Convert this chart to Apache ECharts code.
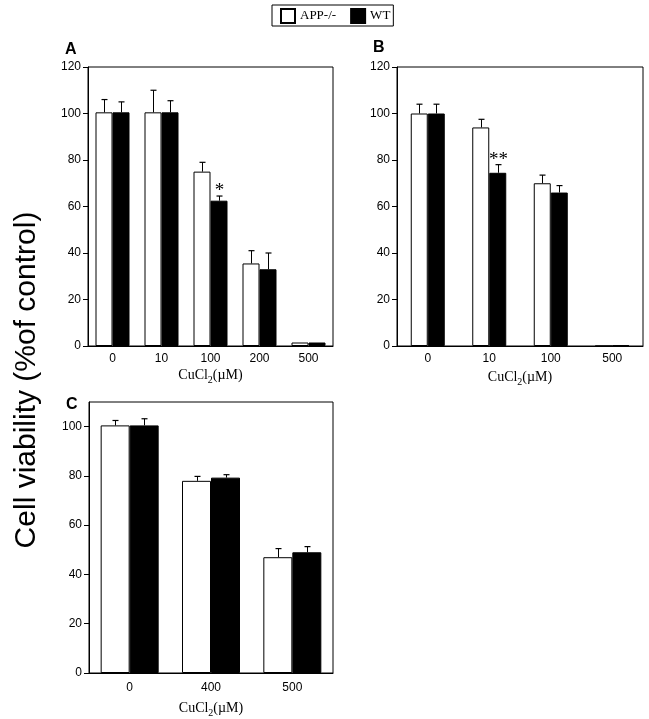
<!DOCTYPE html>
<html>
<head>
<meta charset="utf-8">
<script src="https://cdn.jsdelivr.net/npm/echarts@6/dist/echarts.min.js"></script>
<style>html,body{margin:0;padding:0;background:#fff}#c{width:649px;height:719px}</style>
</head>
<body>
<div id="c"></div>
<script>
// ---- data ----
var seriesNames = ['APP-/-', 'WT'];
var catsA = ['0', '10', '100', '200', '500'];
var appA = [100.5, 100.5, 75, 35.5, 1.5];
var wtA = [100.5, 100.5, 62.5, 33, 1.5];
var appErrA = [106, 110, 79, 41, null];
var wtErrA = [105, 105.5, 64.5, 40, null];
var sigA = ['', '', '*', '', ''];

var catsB = ['0', '10', '100', '500'];
var appB = [100, 94, 70, 0];
var wtB = [100, 74.5, 66, 0.3];
var appErrB = [104, 97.5, 73.5, null];
var wtErrB = [104, 78, 69, null];
var sigB = ['', '**', '', ''];

var catsC = ['0', '400', '500'];
var appC = [100.5, 78, 47];
var wtC = [100.5, 79.3, 49];
var appErrC = [102.5, 79.8, 50.5];
var wtErrC = [103.2, 80.5, 51.3];
var sigC = ['', '', ''];

var yMaxAB = 120, yMaxC = 110, yStep = 20;
var xTitle = 'CuCl{sub|2}(\u00b5M)';
var yTitle = 'Cell viability (%of control)';
var panelLabels = ['A', 'B', 'C'];

// ---- chart ----
var chart = echarts.init(document.getElementById('c'), null, {renderer: 'canvas'});
var sans = 'Liberation Sans, Arial, sans-serif';
var serif = 'Liberation Serif, Times New Roman, serif';

var grids = [
  {left: 88, top: 67, width: 245, height: 279},
  {left: 397, top: 67, width: 246, height: 279},
  {left: 89, top: 402, width: 244, height: 271}
];
var barWidths = [17, 17, 29];
var nameGaps = [20, 22, 26];
var labelMargins = [7, 7, 9];

function xAxis(cats, gi) {
  return {
    type: 'category', gridIndex: gi, data: cats,
    axisLine: {lineStyle: {color: '#000', width: 1}},
    axisTick: {length: 5, lineStyle: {color: '#000'}},
    axisLabel: {color: '#000', fontFamily: sans, fontSize: 12, margin: labelMargins[gi]},
    name: xTitle, nameLocation: 'middle', nameGap: nameGaps[gi],
    nameTextStyle: {color: '#000', fontFamily: serif, fontSize: 14,
      rich: {sub: {fontFamily: serif, fontSize: 10, padding: [9, 0, 0, 0], color: '#000'}}}
  };
}
function yAxis(max, gi) {
  return {
    type: 'value', gridIndex: gi, min: 0, max: max, interval: yStep,
    axisLine: {show: true, lineStyle: {color: '#000', width: 1}},
    axisTick: {show: true, length: 5, lineStyle: {color: '#000'}},
    axisLabel: {color: '#000', fontFamily: sans, fontSize: 12, margin: 7, showMaxLabel: max % yStep === 0},
    splitLine: {show: false}
  };
}

var series = [];
function addPanel(gi, app, wt, appErr, wtErr, sig) {
  var bw = barWidths[gi];
  series.push({
    name: seriesNames[0], type: 'bar', xAxisIndex: gi, yAxisIndex: gi,
    data: app, barWidth: bw, barGap: '0%',
    itemStyle: {color: '#fff', borderColor: '#000', borderWidth: 1}
  });
  series.push({
    name: seriesNames[1], type: 'bar', xAxisIndex: gi, yAxisIndex: gi,
    data: wt, barWidth: bw, barGap: '0%',
    itemStyle: {color: '#000', borderColor: '#000', borderWidth: 1}
  });
  function errSeries(vals, errs, off, marks) {
    var d = [];
    for (var i = 0; i < vals.length; i++) {
      if (errs[i] != null) d.push([i, vals[i], errs[i], marks ? marks[i] : '']);
    }
    return {
      type: 'custom', xAxisIndex: gi, yAxisIndex: gi, data: d, z: 5, silent: true,
      renderItem: function (params, api) {
        var p0 = api.coord([api.value(0), api.value(1)]);
        var p1 = api.coord([api.value(0), api.value(2)]);
        var x = Math.round(p0[0] + off) + 0.5;
        var ch = [
          {type: 'line', shape: {x1: x, y1: p0[1], x2: x, y2: p1[1]}, style: {stroke: '#000', lineWidth: 1}},
          {type: 'line', shape: {x1: x - 3, y1: p1[1], x2: x + 3, y2: p1[1]}, style: {stroke: '#000', lineWidth: 1.2}}
        ];
        var m = d[params.dataIndex][3];
        if (m) {
          ch.push({type: 'text', style: {text: m, x: x, y: p1[1] - 5, align: 'center', verticalAlign: 'middle',
            font: '19px ' + serif, fill: '#000'}});
        }
        return {type: 'group', children: ch};
      }
    };
  }
  series.push(errSeries(app, appErr, -bw / 2, null));
  series.push(errSeries(wt, wtErr, bw / 2, sig));
}
addPanel(0, appA, wtA, appErrA, wtErrA, sigA);
addPanel(1, appB, wtB, appErrB, wtErrB, sigB);
addPanel(2, appC, wtC, appErrC, wtErrC, sigC);

var panelPos = [[65, 50], [373, 48], [66, 405]];
var graphics = panelLabels.map(function (t, i) {
  return {type: 'text', left: panelPos[i][0], top: panelPos[i][1] - 8,
    style: {text: t, font: 'bold 16px ' + sans, fill: '#000'}};
});
graphics.push({type: 'text', x: 27, y: 380, rotation: Math.PI / 2,
  style: {text: yTitle, font: '30px ' + sans, fill: '#000', align: 'center', verticalAlign: 'middle'}});

chart.setOption({
  animation: false,
  backgroundColor: '#fff',
  legend: {
    data: seriesNames, left: 272, top: 5, orient: 'horizontal',
    itemWidth: 14, itemHeight: 14, itemGap: 14, icon: 'rect',
    borderColor: '#000', borderWidth: 1, padding: [3, 3, 2, 8],
    textStyle: {color: '#000', fontFamily: serif, fontSize: 13}
  },
  grid: grids.map(function (g) {
    return Object.assign({show: true, borderColor: '#000', borderWidth: 1, backgroundColor: 'transparent'}, g);
  }),
  xAxis: [xAxis(catsA, 0), xAxis(catsB, 1), xAxis(catsC, 2)],
  yAxis: [yAxis(yMaxAB, 0), yAxis(yMaxAB, 1), yAxis(yMaxC, 2)],
  series: series,
  graphic: graphics
});
</script>
</body>
</html>
